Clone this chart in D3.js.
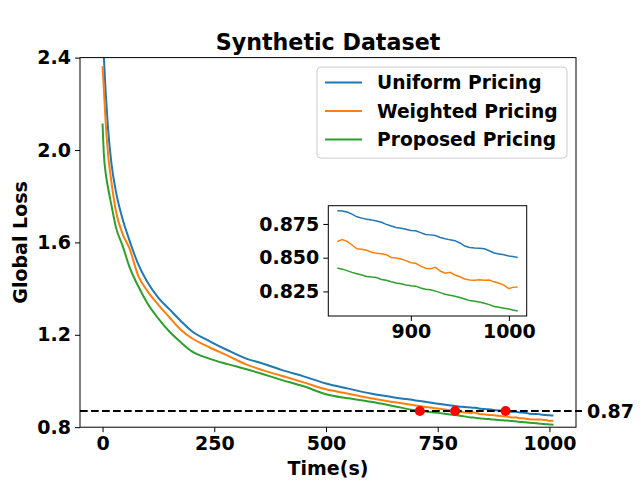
<!DOCTYPE html>
<html>
<head>
<meta charset="utf-8">
<script src="https://cdn.jsdelivr.net/npm/d3@7"></script>
<style>
  body { margin: 0; background: #fff; }
  svg text { font-family: "DejaVu Sans", sans-serif; font-weight: bold; fill: #000; }
  .axis path, .axis line { stroke: #000; stroke-width: 1; }
  .axis text { font-size: 19px; }
</style>
</head>
<body>
<div id="chart"></div>
<script>
// time stamps (s) - coarse over the whole run, finer near the end (zoomed part)
var times = [0, 3, 7, 12, 20, 30, 45, 60, 80, 100, 125, 150, 175, 200, 240, 280, 320, 360, 400,
  450, 500, 550, 600, 650, 700, 750, 800,
  825, 830, 835, 840, 845, 850, 855, 860, 865, 870, 875, 880, 885, 890, 895, 900, 905, 910,
  915, 920, 925, 930, 935, 940, 945, 950, 955, 960, 965, 970, 975, 980, 985, 990, 995, 1000, 1004, 1009];

var uniformLoss = [2.50, 2.40, 2.25, 2.10, 1.94, 1.82, 1.70, 1.61, 1.505, 1.43, 1.36, 1.31, 1.26, 1.215,
  1.172, 1.133, 1.098, 1.075, 1.048, 1.02, 0.989, 0.967, 0.946, 0.930, 0.916, 0.902, 0.889,
  0.8848, 0.8845, 0.8838, 0.8823, 0.8803, 0.8793, 0.8785, 0.8780, 0.8772, 0.8762, 0.8747, 0.8735,
  0.8724, 0.8718, 0.8711, 0.8701, 0.8700, 0.8686, 0.8672, 0.8669, 0.8664, 0.8650, 0.8640, 0.8632,
  0.8626, 0.8609, 0.8586, 0.8576, 0.8572, 0.8569, 0.8566, 0.8551, 0.8535, 0.8528, 0.8521, 0.8513,
  0.8508, 0.8502];

var weightedLoss = [2.363, 2.26, 2.12, 1.99, 1.86, 1.735, 1.636, 1.575, 1.455, 1.39, 1.33, 1.275, 1.222,
  1.185, 1.145, 1.11, 1.073, 1.046, 1.023, 0.994, 0.964, 0.945, 0.925, 0.909, 0.894, 0.881, 0.867,
  0.8620, 0.8634, 0.8621, 0.8594, 0.8566, 0.8563, 0.8555, 0.8540, 0.8532, 0.8529, 0.8522, 0.8502,
  0.8498, 0.8490, 0.8478, 0.8462, 0.8458, 0.8437, 0.8422, 0.8418, 0.8428, 0.8401, 0.8385, 0.8392,
  0.8372, 0.8359, 0.8342, 0.8334, 0.8332, 0.8336, 0.8333, 0.8335, 0.8321, 0.8310, 0.8297, 0.8270,
  0.8280, 0.8282];

var proposedLoss = [2.115, 1.98, 1.90, 1.84, 1.76, 1.665, 1.585, 1.495, 1.41, 1.338, 1.27, 1.213, 1.168,
  1.128, 1.096, 1.073, 1.052, 1.029, 1.005, 0.977, 0.943, 0.925, 0.910, 0.892, 0.873, 0.862, 0.850,
  0.8424, 0.8415, 0.8404, 0.8391, 0.8381, 0.8371, 0.8361, 0.8356, 0.8353, 0.8338, 0.8333, 0.8322,
  0.8312, 0.8306, 0.8297, 0.8292, 0.8289, 0.8275, 0.8266, 0.8262, 0.8252, 0.8241, 0.8229, 0.8221,
  0.8214, 0.8205, 0.8194, 0.8182, 0.8178, 0.8172, 0.8163, 0.8152, 0.8139, 0.8133, 0.8126, 0.8119,
  0.8113, 0.8105];

var seriesNames = ['Uniform Pricing', 'Weighted Pricing', 'Proposed Pricing'];
var seriesColors = ['#1f77b4', '#ff7f0e', '#2ca02c'];

// target loss and the times where each curve reaches it
var targetLoss = 0.87;
var reachTimes = [710, 789, 902];

var xTicks = [0, 250, 500, 750, 1000];
var yTicks = [0.8, 1.2, 1.6, 2.0, 2.4];
var insetXTicks = [900, 1000];
var insetYTicks = [0.825, 0.850, 0.875];
var insetStart = 825;

var W = 640, H = 480,
    margin = {left: 80, top: 57.6, right: 64, bottom: 52.8},
    width = W - margin.left - margin.right,
    height = H - margin.top - margin.bottom;

var series = [uniformLoss, weightedLoss, proposedLoss].map(function (vals, i) {
  return {name: seriesNames[i], color: seriesColors[i],
    values: times.map(function (t, j) { return {t: t, v: vals[j]}; })};
});

var svg = d3.select('#chart').append('svg')
  .attr('width', W).attr('height', H);

// x domain with matplotlib style 5% padding
var tMin = d3.min(times), tMax = d3.max(times), pad = (tMax - tMin) * 0.05;
var x = d3.scaleLinear().domain([tMin - pad, tMax + pad]).range([0, width]);
var y = d3.scaleLinear().domain([0.8, 2.4]).range([height, 0]);

var chart = svg.append('g')
  .attr('transform', 'translate(' + margin.left + ',' + margin.top + ')');

svg.append('defs').append('clipPath').attr('id', 'clipMain')
  .append('rect').attr('width', width).attr('height', height);

var line = d3.line()
  .x(function (d) { return x(d.t); })
  .y(function (d) { return y(d.v); })
  .curve(d3.curveMonotoneX);

chart.append('g').attr('clip-path', 'url(#clipMain)')
  .selectAll('path').data(series).enter()
  .append('path')
  .attr('d', function (d) { return line(d.values); })
  .attr('fill', 'none')
  .attr('stroke', function (d) { return d.color; })
  .attr('stroke-width', 2);

// target line
chart.append('line')
  .attr('x1', 0).attr('x2', width + 6)
  .attr('y1', y(targetLoss)).attr('y2', y(targetLoss))
  .attr('stroke', '#000').attr('stroke-width', 2)
  .attr('stroke-dasharray', '7.7,3.3');

chart.append('text')
  .attr('x', width + 11).attr('y', y(targetLoss))
  .attr('dy', '0.35em')
  .style('font-size', '19px')
  .text(targetLoss.toFixed(2));

chart.selectAll('.reach').data(reachTimes).enter()
  .append('circle')
  .attr('cx', function (d) { return x(d); })
  .attr('cy', y(targetLoss))
  .attr('r', 5)
  .attr('fill', 'red');

// axes
chart.append('g').attr('class', 'axis')
  .attr('transform', 'translate(0,' + height + ')')
  .call(d3.axisBottom(x).tickValues(xTicks).tickSize(5).tickPadding(4).tickFormat(d3.format('d')));
chart.append('g').attr('class', 'axis')
  .call(d3.axisLeft(y).tickValues(yTicks).tickSize(5).tickPadding(4).tickFormat(d3.format('.1f')));

chart.append('rect')
  .attr('width', width).attr('height', height)
  .attr('fill', 'none').attr('stroke', '#000').attr('stroke-width', 1);

chart.selectAll('.axis .domain').remove();

// title and labels
chart.append('text')
  .attr('x', width / 2).attr('y', -8)
  .attr('text-anchor', 'middle')
  .style('font-size', '22.2px')
  .text('Synthetic Dataset');

chart.append('text')
  .attr('x', width / 2).attr('y', height + 48)
  .attr('text-anchor', 'middle')
  .style('font-size', '19px')
  .text('Time(s)');

chart.append('text')
  .attr('transform', 'translate(-53,' + (height / 2) + ') rotate(-90)')
  .attr('text-anchor', 'middle')
  .style('font-size', '19px')
  .text('Global Loss');

// legend
var legend = chart.append('g').attr('transform', 'translate(237,9.5)');
legend.append('rect')
  .attr('width', 250).attr('height', 91)
  .attr('rx', 4).attr('ry', 4)
  .attr('fill', '#fff').attr('fill-opacity', 0.8)
  .attr('stroke', '#cccccc').attr('stroke-width', 1);

var legItem = legend.selectAll('.leg').data(series).enter()
  .append('g')
  .attr('transform', function (d, i) { return 'translate(0,' + (15.5 + i * 28.5) + ')'; });
legItem.append('line')
  .attr('x1', 8).attr('x2', 45)
  .attr('stroke', function (d) { return d.color; })
  .attr('stroke-width', 2);
legItem.append('text')
  .attr('x', 60).attr('dy', '0.35em')
  .style('font-size', '18.7px')
  .text(function (d) { return d.name; });

// inset (zoom on the last part)
var inset = {left: 248.3, top: 148.1, width: 198.4, height: 110.3};
var insetSeries = series.map(function (s) {
  return {color: s.color, values: s.values.filter(function (d) { return d.t >= insetStart; })};
});
var allInset = d3.merge(insetSeries.map(function (s) { return s.values; }));
var ixExt = d3.extent(allInset, function (d) { return d.t; }),
    iyExt = d3.extent(allInset, function (d) { return d.v; }),
    ixPad = (ixExt[1] - ixExt[0]) * 0.05,
    iyPad = (iyExt[1] - iyExt[0]) * 0.05;

var ix = d3.scaleLinear().domain([ixExt[0] - ixPad, ixExt[1] + ixPad]).range([0, inset.width]);
var iy = d3.scaleLinear().domain([iyExt[0] - iyPad, iyExt[1] + iyPad]).range([inset.height, 0]);

var ig = chart.append('g')
  .attr('transform', 'translate(' + inset.left + ',' + inset.top + ')');

ig.append('rect')
  .attr('width', inset.width).attr('height', inset.height)
  .attr('fill', '#fff');

var iline = d3.line()
  .x(function (d) { return ix(d.t); })
  .y(function (d) { return iy(d.v); });

ig.selectAll('.iline').data(insetSeries).enter()
  .append('path')
  .attr('d', function (d) { return iline(d.values); })
  .attr('fill', 'none')
  .attr('stroke', function (d) { return d.color; })
  .attr('stroke-width', 1.5);

ig.append('g').attr('class', 'axis')
  .attr('transform', 'translate(0,' + inset.height + ')')
  .call(d3.axisBottom(ix).tickValues(insetXTicks).tickSize(5).tickPadding(4).tickFormat(d3.format('d')));
ig.append('g').attr('class', 'axis')
  .call(d3.axisLeft(iy).tickValues(insetYTicks).tickSize(5).tickPadding(4).tickFormat(d3.format('.3f')));
ig.selectAll('.axis .domain').remove();

ig.append('rect')
  .attr('width', inset.width).attr('height', inset.height)
  .attr('fill', 'none').attr('stroke', '#000').attr('stroke-width', 1);
</script>
</body>
</html>
